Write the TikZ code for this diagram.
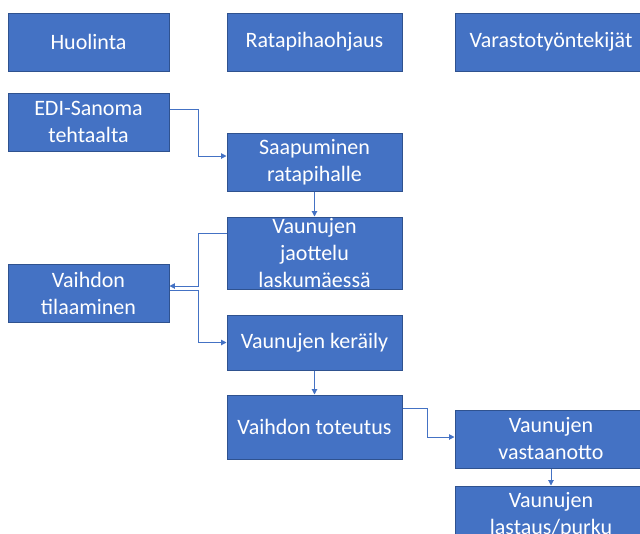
\documentclass[tikz,border=0pt]{standalone}
\usepackage{fontspec}
\setmainfont{Carlito}
\usepackage{tikz}
\usetikzlibrary{arrows.meta, positioning}
\definecolor{sininen}{HTML}{4472C4}
\definecolor{tummaSininen}{HTML}{2F528F}

\begin{document}
\begin{tikzpicture}[
    laatikko/.style={rectangle, draw=tummaSininen, fill=sininen, line width=0.75pt, text=white, align=center, inner sep=0pt, minimum height=43.5pt, font=\fontsize{16.5}{20.25}\selectfont},
    sarake1/.style={laatikko, minimum width=120.75pt},
    sarake2/.style={laatikko, minimum width=131.25pt},
    sarake3/.style={laatikko, minimum width=144pt},
    nuoli/.style={-{Triangle[length=4pt, width=4pt]}, line width=0.75pt, sininen}
]
    \useasboundingbox (0,0) rectangle (480pt,-399.75pt);

    \node[sarake1] (huolinta) at (66.375pt,-31.5pt) {Huolinta};
    \node[sarake2, right=42.75pt of huolinta] (ohjaus) {Ratapihaohjaus};
    \node[sarake3, right=39pt of ohjaus] (varasto) {Varastotyöntekijät};

    \node[sarake1, below=15.75pt of huolinta] (edi) {EDI-Sanoma\\tehtaalta};
    \node[sarake2, below=45.75pt of ohjaus] (saapuminen) {Saapuminen\\ratapihalle};
    \node[sarake2, below=18.75pt of saapuminen, minimum height=54pt] (jaottelu) {Vaunujen\\jaottelu\\laskumäessä};
    \node[sarake1, below=84pt of edi] (tilaus) {Vaihdon\\tilaaminen};
    \node[sarake2, below=18.75pt of jaottelu, minimum height=41.25pt] (keraily) {Vaunujen keräily};
    \node[sarake2, below=18pt of keraily, minimum height=48pt] (toteutus) {Vaihdon toteutus};
    \node[sarake3, below=253.5pt of varasto] (vastaanotto) {Vaunujen\\vastaanotto};
    \node[sarake3, below=12.75pt of vastaanotto] (lastaus) {Vaunujen\\lastaus/purku};

    \draw[nuoli] ([yshift=9.75pt]edi.east) -- ++(21.75pt,0) |- ([yshift=4.5pt]saapuminen.west);
    \draw[nuoli] (saapuminen) -- (jaottelu);
    \draw[nuoli] ([yshift=15pt]jaottelu.west) -- ++(-21pt,0) |- ([yshift=5.25pt]tilaus.east);
    \draw[nuoli] ([yshift=2.25pt]tilaus.east) -- ++(21.75pt,0) |- (keraily.west);
    \draw[nuoli] (keraily) -- (toteutus);
    \draw[nuoli] ([yshift=14.25pt]toteutus.east) -- ++(18.75pt,0) |- ([yshift=1.5pt]vastaanotto.west);
    \draw[nuoli] (vastaanotto) -- (lastaus);
\end{tikzpicture}
\end{document}
